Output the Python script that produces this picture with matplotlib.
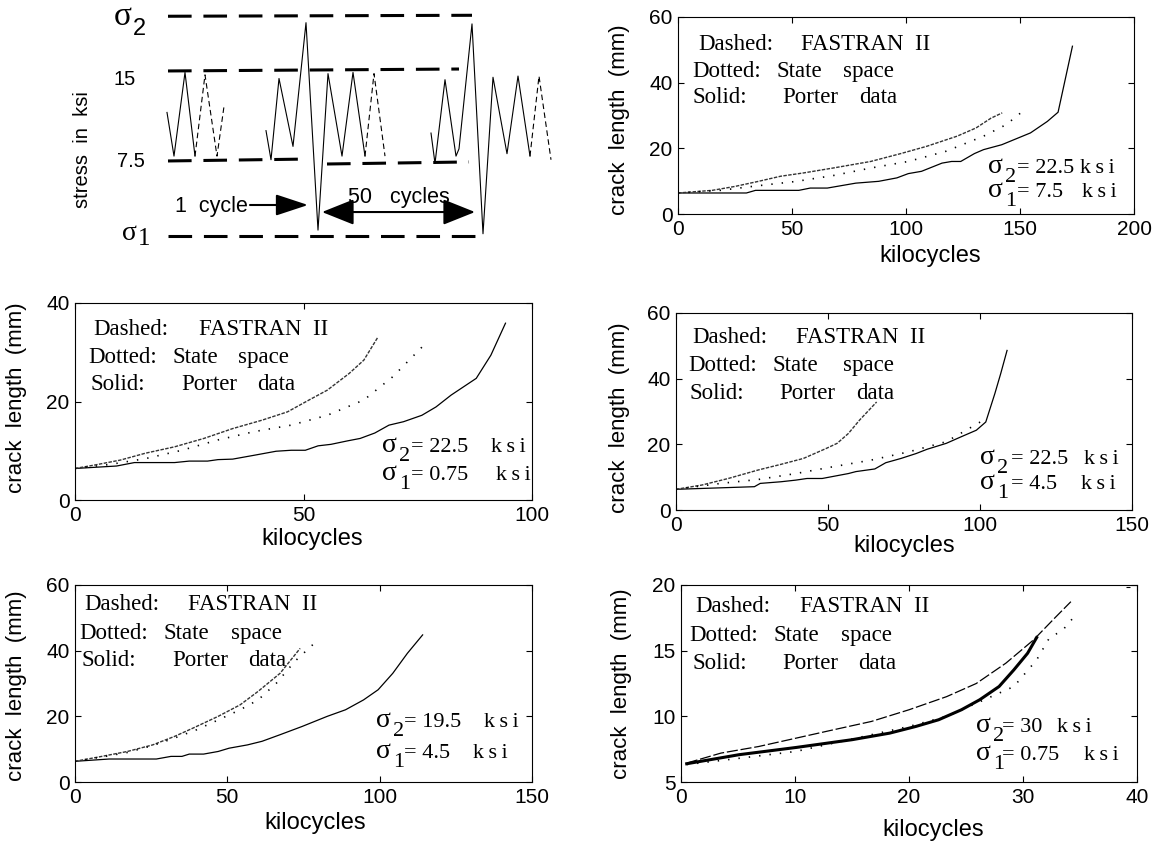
import matplotlib
matplotlib.use('Agg')
import matplotlib.pyplot as plt
from matplotlib.transforms import offset_copy

# ── 字型與線型設定 ──
plt.rcParams['font.family'] = ['Liberation Sans', 'DejaVu Sans']
plt.rcParams['lines.scale_dashes'] = False
plt.rcParams['axes.linewidth'] = 0.8
SERIF = ['Liberation Serif', 'DejaVu Serif']

# ── 示意圖: 載荷波形 (時間為任意單位, 應力 ksi) ──
wave1_t = [167, 174, 185, 195]
wave1_s = [11.5, 7.9, 14.8, 7.9]
wave1d_t = [195, 205, 217, 224]
wave1d_s = [7.9, 14.6, 7.9, 12.0]
wave2_t = [266, 271, 279, 293, 306, 318, 328, 342, 353, 365]
wave2_s = [10.0, 7.6, 14.3, 8.7, 18.9, 1.8, 14.7, 7.9, 14.8, 7.9]
wave2d_t = [365, 374, 385]
wave2d_s = [7.9, 14.7, 7.9]
wave3_t = [431, 435, 445, 456, 459, 472, 483, 493, 507, 518, 530]
wave3_s = [9.8, 7.3, 14.2, 7.9, 8.5, 18.8, 1.5, 14.4, 8.1, 14.5, 7.9]
wave3d_t = [530, 539, 551]
wave3d_s = [7.9, 14.5, 7.6]

level_t = [[168, 472], [168, 459], [168, 309], [327, 469], [168, 483]]
level_s = [[19.43, 19.51], [14.92, 15.08], [7.50, 7.66], [7.25, 7.42], [1.31, 1.31]]

# ── 裂紋成長資料 (kilocycles, mm) ──
# 22.5 / 7.5 ksi
p1_solid_x = [0, 30, 34, 53, 58, 65.5, 78, 88, 96, 101, 106.8, 115.8, 120, 124, 130, 134, 142, 154.6, 162, 166.7, 173]
p1_solid_y = [6.4, 6.4, 7.2, 7.2, 7.9, 7.9, 9.4, 9.95, 11, 12.3, 13, 15.5, 16, 16, 18.4, 19.6, 21.1, 24.7, 28.2, 31, 51.1]
p1_dash_x = [0, 15, 25, 35, 45, 55, 68, 84.5, 97.7, 109, 122.4, 130.7, 137.3, 142.2]
p1_dash_y = [6.4, 7.2, 8.4, 9.9, 11.5, 12.5, 14, 16, 18.4, 20.6, 23.7, 26.2, 29.2, 30.8]
p1_dot_x = [0, 18.5, 35, 51.5, 68, 84.5, 101, 117.5, 134, 143.9, 153]
p1_dot_y = [6.4, 7.2, 8.6, 9.9, 11.7, 14, 16, 19.1, 23.7, 27.2, 32.3]

# 22.5 / 0.75 ksi
p2_solid_x = [0, 9.1, 13, 21.8, 25, 29, 31.3, 34.5, 39.3, 44, 47.3, 50.4, 53.2, 56, 59.6, 62.4, 65.6, 68.7, 71.9, 75.9, 79, 82.3, 87.8, 91, 94.2]
p2_solid_y = [6.4, 6.9, 7.6, 7.6, 7.9, 7.9, 8.2, 8.3, 9.1, 9.9, 10.1, 10.1, 11, 11.3, 12, 12.5, 13.6, 15.2, 15.9, 17.2, 18.9, 21.3, 24.7, 29.4, 35.9]
p2_dash_x = [0, 4.3, 9.9, 15.4, 21.8, 28.2, 34.5, 40.9, 46.5, 51.2, 55.2, 60, 63.2, 66.3]
p2_dash_y = [6.4, 7.1, 8.1, 9.5, 10.8, 12.5, 14.5, 16.2, 17.9, 20.3, 22.3, 25.7, 28.4, 33.1]
p2_dot_x = [0, 7.5, 15.4, 23.4, 31.3, 39.3, 47.3, 55.2, 63.2, 69.5, 76.3]
p2_dot_y = [6.4, 7.2, 8.4, 10.1, 12.2, 13.9, 15.2, 17.2, 20.3, 25, 31.4]

# 22.5 / 4.5 ksi
p3_solid_x = [0, 25.8, 27.7, 34.5, 39.4, 43.1, 48.1, 56.7, 59.2, 65.4, 69, 74, 79, 82.6, 88.9, 93.8, 98.8, 101.9, 104.9, 106.8, 108.9]
p3_solid_y = [6.3, 7.1, 8.1, 8.6, 9.1, 9.6, 9.6, 11.1, 11.7, 12.5, 14.4, 15.7, 17.2, 18.5, 20.3, 22.3, 24.3, 26.8, 35.5, 41.5, 48.6]
p3_dash_x = [0, 8.5, 17.2, 27.1, 34.5, 41.9, 49.3, 53, 56.7, 60.4, 66]
p3_dash_y = [6.3, 7.6, 9.6, 12.2, 13.9, 15.7, 18.7, 20.3, 23.3, 27.4, 32.9]
p3_dot_x = [0, 14.7, 27.1, 39.4, 51.8, 64.2, 76.5, 88.9, 101.2]
p3_dot_y = [6.3, 8.1, 9.3, 11.1, 13.2, 15.2, 17.7, 20.8, 27.4]

# 19.5 / 4.5 ksi
p4_solid_x = [0, 11.2, 26.7, 31.5, 35.1, 37.5, 42.2, 47, 50.6, 56.6, 61.4, 67.3, 74.5, 82.8, 88.8, 94.7, 99.5, 104.3, 109.1, 114.1]
p4_solid_y = [6.3, 7, 7, 7.8, 7.8, 8.5, 8.5, 9.3, 10.3, 11.3, 12.4, 14.4, 16.9, 20, 22, 25, 28.1, 33.1, 39.2, 44.8]
p4_dash_x = [0, 8.8, 17.2, 25.5, 32.7, 38.7, 47, 54.2, 60.1, 67.3, 73.9]
p4_dash_y = [6.3, 7.8, 9.3, 11.3, 13.9, 16.4, 20, 23.5, 27.6, 33.1, 40.7]
p4_dot_x = [0, 8.8, 17.2, 25.5, 32.7, 39.9, 47, 54.2, 60.1, 66.1, 72.1, 78.6]
p4_dot_y = [6.3, 7.6, 9, 11.1, 13.4, 15.9, 18.9, 22, 25, 30.1, 36.7, 42.3]

# 30 / 0.75 ksi
p5_solid_x = [0.5, 5.1, 10.1, 15, 18.3, 20.6, 22.6, 24.6, 26.2, 27.9, 29.2, 30.4, 31.2]
p5_solid_y = [6.39, 7.08, 7.63, 8.22, 8.72, 9.23, 9.74, 10.5, 11.26, 12.27, 13.54, 14.8, 16.0]
p5_dash_x = [0.5, 3.5, 6.8, 10.1, 13.4, 16.7, 20, 23.3, 25.9, 28.5, 30.9, 32.8, 34.2]
p5_dash_y = [6.44, 7.2, 7.7, 8.34, 8.98, 9.61, 10.5, 11.5, 12.5, 14.05, 15.8, 17.5, 18.73]
p5_dot_x = [0.5, 4.1, 10.1, 16.7, 20, 23.3, 26.6, 29.2, 31.2, 32.3, 33.5, 34.5]
p5_dot_y = [6.33, 6.7, 7.33, 8.6, 9.23, 10, 11.26, 12.27, 14.3, 15.95, 16.58, 17.6]
p5_stray_x = [39.2]
p5_stray_y = [19.87]

sigma2 = ['22.5', '22.5', '22.5', '19.5', '30']
sigma1 = ['7.5', '0.75', '4.5', '4.5', '0.75']


def rect(l, t, r, b):
    return [l / 1160, 1 - b / 843, (r - l) / 1160, (b - t) / 843]


fig = plt.figure(figsize=(11.6, 8.43), dpi=100)

# ── 示意圖 ──
ax0 = fig.add_axes(rect(0, 0, 580, 250))
ax0.set_xlim(0, 580)
ax0.set_ylim(0.16, 20.77)
ax0.axis('off')
for t, s in zip(level_t, level_s):
    ax0.plot(t, s, color='k', lw=2.2, ls=(0, (17, 8.5)))
for t, s in [(wave1_t, wave1_s), (wave2_t, wave2_s), (wave3_t, wave3_s)]:
    ax0.plot(t, s, color='k', lw=0.8)
for t, s in [(wave1d_t, wave1d_s), (wave2d_t, wave2d_s), (wave3d_t, wave3d_s)]:
    ax0.plot(t, s, color='k', lw=0.8, ls=(0, (4, 2.5)))

ax0.text(114, 18.71, 'σ', fontsize=24, family=SERIF, va='baseline')
ax0.text(133, 17.89, '2', fontsize=17, va='baseline')
ax0.text(122, 0.99, 'σ', fontsize=20, family=SERIF, va='baseline')
ax0.text(138, 0.57, '1', fontsize=18, family=SERIF, va='baseline')
ax0.text(136, 14.18, '15', fontsize=14.5, ha='right', va='center')
ax0.text(145, 7.42, '7.5', fontsize=14.5, ha='right', va='center')
ax0.text(83, 8.4, 'stress  in  ksi', fontsize=14.5, rotation=90, ha='center', va='center')
ax0.text(175, 3.29, '1  cycle', fontsize=15.5, va='baseline')
ax0.text(348, 4.04, '50   cycles', fontsize=15.5, va='baseline')
ax0.annotate('', xy=(308, 3.87), xytext=(250, 3.87),
             arrowprops=dict(arrowstyle='-|>,head_length=1.0,head_width=0.33',
                             mutation_scale=20, lw=1.5, color='k', shrinkA=0, shrinkB=0))
ax0.annotate('', xy=(475, 3.29), xytext=(322, 3.29),
             arrowprops=dict(arrowstyle='<|-|>,head_length=1.0,head_width=0.4',
                             mutation_scale=20, lw=1.5, color='k', shrinkA=0, shrinkB=0))

# ── 五個裂紋長度子圖 ──
panels = [
    dict(r=(678, 17, 1134, 214), xlim=(0, 200), ylim=(0, 60), xt=[0, 50, 100, 150, 200], yt=[0, 20, 40, 60],
         solid=(p1_solid_x, p1_solid_y), dash=(p1_dash_x, p1_dash_y), dot=(p1_dot_x, p1_dot_y),
         leg=[(0.044, 0.831, 0.270), (0.031, 0.696, 0.215, 0.361), (0.031, 0.565, 0.229, 0.397)],
         sg=(0.680, 0.208, 0.086, 0.743, 0.882, 0.885), xl=(0.553, -0.155), yl=(-0.105, 0.48)),
    dict(r=(75, 303, 532, 500), xlim=(0, 100), ylim=(0, 40), xt=[0, 50, 100], yt=[0, 20, 40],
         solid=(p2_solid_x, p2_solid_y), dash=(p2_dash_x, p2_dash_y), dot=(p2_dot_x, p2_dot_y),
         leg=[(0.041, 0.836, 0.272), (0.029, 0.696, 0.214, 0.357), (0.035, 0.557, 0.232, 0.399)],
         sg=(0.671, 0.245, 0.100, 0.735, 0.910, 0.922), xl=(0.52, -0.14), yl=(-0.105, 0.52)),
    dict(r=(676, 313, 1132, 510), xlim=(0, 150), ylim=(0, 60), xt=[0, 50, 100, 150], yt=[0, 20, 40, 60],
         solid=(p3_solid_x, p3_solid_y), dash=(p3_dash_x, p3_dash_y), dot=(p3_dot_x, p3_dot_y),
         leg=[(0.036, 0.850, 0.264), (0.026, 0.706, 0.211, 0.366), (0.030, 0.564, 0.227, 0.395)],
         sg=(0.666, 0.235, 0.105, 0.734, 0.895, 0.889), xl=(0.50, -0.125), yl=(-0.101, 0.47)),
    dict(r=(75, 585, 532, 782), xlim=(0, 150), ylim=(0, 60), xt=[0, 50, 100, 150], yt=[0, 20, 40, 60],
         solid=(p4_solid_x, p4_solid_y), dash=(p4_dash_x, p4_dash_y), dot=(p4_dot_x, p4_dot_y),
         leg=[(0.021, 0.873, 0.248), (0.010, 0.726, 0.193, 0.341), (0.015, 0.590, 0.212, 0.379)],
         sg=(0.658, 0.28, 0.12, 0.719, 0.894, 0.870), xl=(0.525, -0.15), yl=(-0.105, 0.49)),
    dict(r=(681, 585, 1137, 782), xlim=(0, 40), ylim=(5, 20), xt=[0, 10, 20, 30, 40], yt=[5, 10, 15, 20],
         solid=(p5_solid_x, p5_solid_y), dash=(p5_dash_x, p5_dash_y), dot=(p5_dot_x, p5_dot_y),
         leg=[(0.031, 0.865, 0.260), (0.019, 0.716, 0.202, 0.351), (0.025, 0.574, 0.223, 0.388)],
         sg=(0.648, 0.255, 0.11, 0.705, 0.825, 0.883), xl=(0.554, -0.19), yl=(-0.107, 0.50)),
]

for i, p in enumerate(panels):
    ax = fig.add_axes(rect(*p['r']))
    last = i == 4
    ax.plot(*p['solid'], color='k', lw=2.2 if last else 0.9)
    if last:
        ax.plot(*p['dash'], color='k', lw=0.9, ls=(0, (8, 2)))
    else:
        ax.plot(*p['dash'], color='#333333', lw=1.0, ls=(0, (2.5, 1)))
    ax.plot(*p['dot'], color='k', lw=1.2, ls=(0, (1, 6.5)))
    if last:
        ax.plot(p5_stray_x, p5_stray_y, color='k', marker='_', ms=3, mew=0.8, ls='none')
    ax.set_xlim(*p['xlim'])
    ax.set_ylim(*p['ylim'])
    ax.set_xticks(p['xt'])
    ax.set_yticks(p['yt'])
    ax.tick_params(direction='in', top=True, right=True, length=4, width=0.8,
                   labelsize=15, pad=4)
    ax.set_xlabel('kilocycles', fontsize=17)
    ax.set_ylabel('crack  length  (mm)', fontsize=16)
    ax.xaxis.set_label_coords(*p['xl'])
    ax.yaxis.set_label_coords(*p['yl'])

    kw = dict(transform=ax.transAxes, family=SERIF, fontsize=16.5, va='baseline')
    (dx, dy, fx), (tx, ty, sx1, sx2), (ox, oy, px1, px2) = p['leg']
    ax.text(dx, dy, 'Dashed:', **kw)
    ax.text(fx, dy, 'FASTRAN  II', **kw)
    ax.text(tx, ty, 'Dotted:', **kw)
    ax.text(sx1, ty, 'State', **kw)
    ax.text(sx2, ty, 'space', **kw)
    ax.text(ox, oy, 'Solid:', **kw)
    ax.text(px1, oy, 'Porter', **kw)
    ax.text(px2, oy, 'data', **kw)

    sx, y2, y1, xeq, k2, k1 = p['sg']
    sub_tr = offset_copy(ax.transAxes, fig=fig, x=17, y=-9, units='dots')
    for yy, sub, val, kx in [(y2, '2', sigma2[i], k2), (y1, '1', sigma1[i], k1)]:
        ax.text(sx, yy, 'σ', transform=ax.transAxes, family=SERIF, fontsize=20, va='baseline')
        ax.text(sx, yy, sub, transform=sub_tr, family=SERIF, fontsize=16, va='baseline')
        ax.text(xeq, yy, '= ' + val, transform=ax.transAxes, family=SERIF, fontsize=16, va='baseline')
        ax.text(kx, yy, 'k\u2009s\u2009i', transform=ax.transAxes, family=SERIF, fontsize=16, va='baseline')

fig.savefig('out.png', dpi=100)
